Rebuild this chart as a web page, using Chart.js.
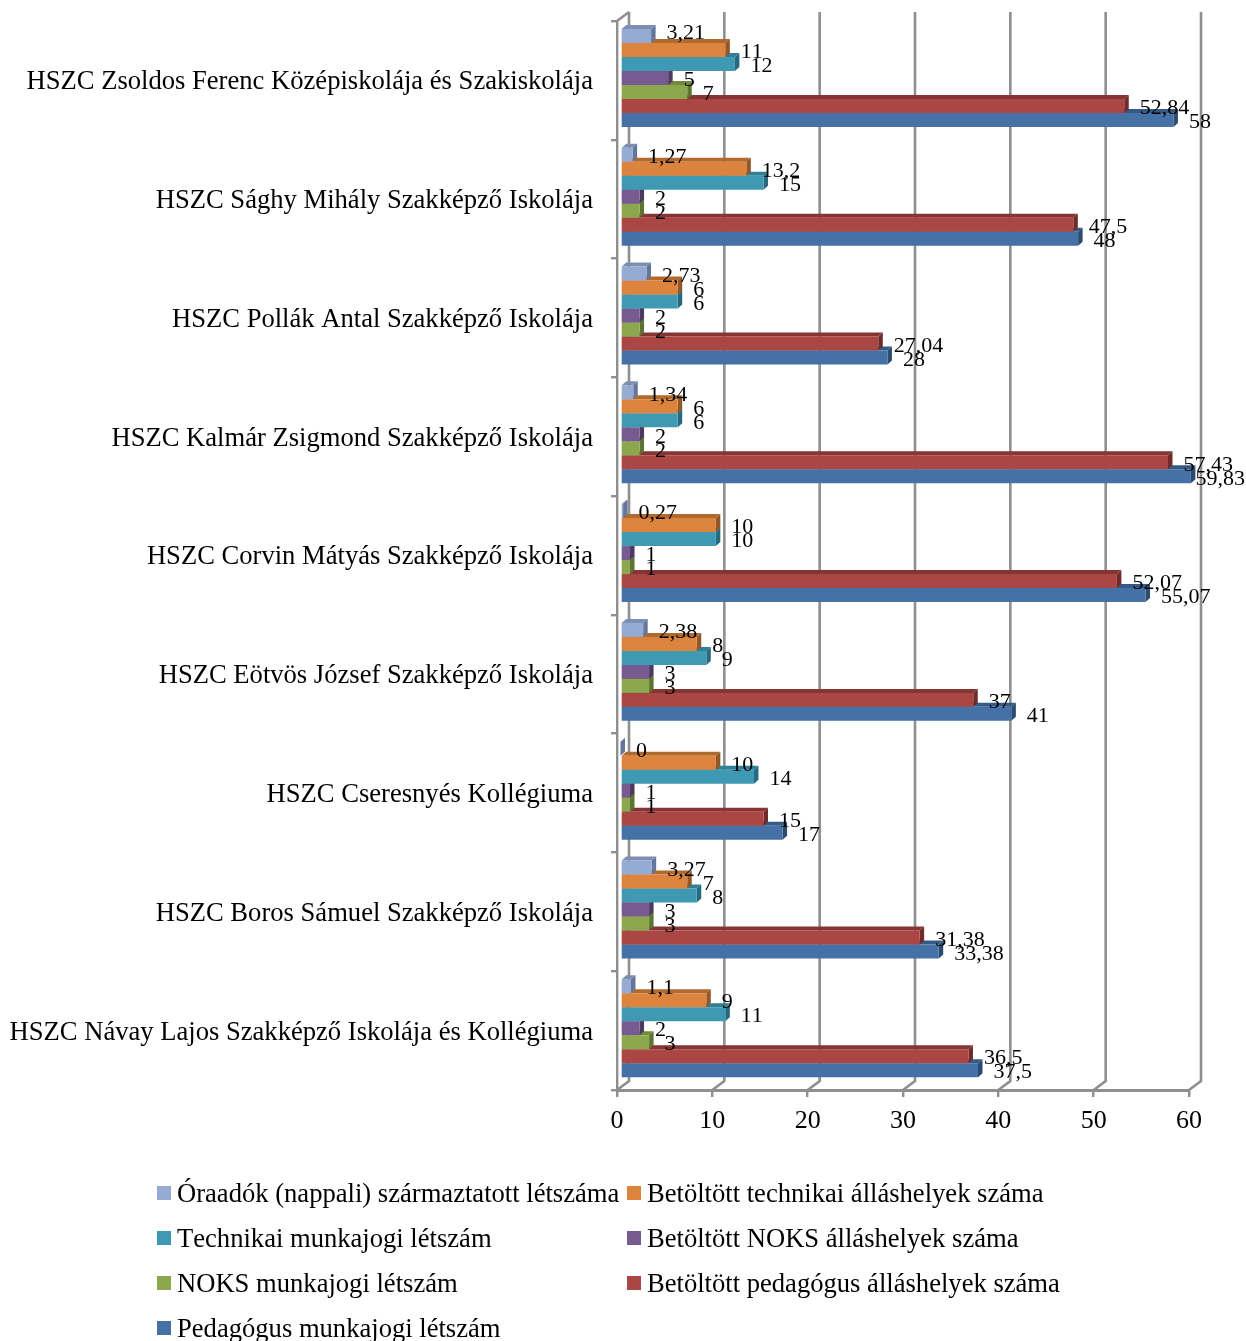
<!DOCTYPE html>
<html><head><meta charset="utf-8">
<script src="https://cdn.jsdelivr.net/npm/chart.js@4/dist/chart.umd.min.js"></script>
<style>html,body{margin:0;padding:0;background:#fff}canvas{display:block}</style>
</head><body><canvas id="c" width="1246" height="1341"></canvas>
<script>
const categories=["HSZC Zsoldos Ferenc Középiskolája és Szakiskolája","HSZC Sághy Mihály Szakképző Iskolája","HSZC Pollák Antal Szakképző Iskolája","HSZC Kalmár Zsigmond Szakképző Iskolája","HSZC Corvin Mátyás Szakképző Iskolája","HSZC Eötvös József Szakképző Iskolája","HSZC Cseresnyés Kollégiuma","HSZC Boros Sámuel Szakképző Iskolája","HSZC Návay Lajos Szakképző Iskolája és Kollégiuma"];
const oraadok=[3.21,1.27,2.73,1.34,0.27,2.38,0,3.27,1.1];
const techBetoltott=[11,13.2,6,6,10,8,10,7,9];
const techLetszam=[12,15,6,6,10,9,14,8,11];
const noksBetoltott=[5,2,2,2,1,3,1,3,2];
const noksLetszam=[7,2,2,2,1,3,1,3,3];
const pedBetoltott=[52.84,47.5,27.04,57.43,52.07,37,15,31.38,36.5];
const pedLetszam=[58,48,28,59.83,55.07,41,17,33.38,37.5];
const seriesNames=["Óraadók (nappali) származtatott létszáma","Betöltött technikai álláshelyek száma","Technikai munkajogi létszám","Betöltött NOKS álláshelyek száma","NOKS munkajogi létszám","Betöltött pedagógus álláshelyek száma","Pedagógus munkajogi létszám"];
const seriesValues=[oraadok,techBetoltott,techLetszam,noksBetoltott,noksLetszam,pedBetoltott,pedLetszam];
const colors=["#95ABD3","#DC843E","#4099B3","#775A90","#8CA84E","#AA4644","#4571A6"];
const topColors=["#7C90B4","#B0692F","#2F7F96","#5E4573","#6F8A3A","#863533","#365A85"];
const sideColors=["#64769A","#935626","#256A7E","#4D3860","#5C7430","#702B2A","#2C4B70"];
const FONT='"Liberation Serif"';
const GRID='#8F8F8F';
const DX=3.5,DY=-2.4,WX=12,WY=-9,BX=4.5,BY=-4;

const threeD={id:'threeD',
 beforeDraw(chart){chart.ctx.fontKerning='none';},
 beforeDatasetsDraw(chart){
  const c=chart.ctx,x=chart.scales.x,a=chart.chartArea;
  c.save();c.strokeStyle=GRID;c.lineWidth=2.6;c.lineJoin='miter';
  x.ticks.forEach((t,i)=>{const p=x.getPixelForTick(i);
   c.beginPath();c.moveTo(p,a.bottom);c.lineTo(p+WX,a.bottom+WY);c.lineTo(p+WX,a.top+WY);c.stroke();});
  c.beginPath();c.moveTo(a.left,a.top);c.lineTo(a.left+WX,a.top+WY);c.stroke();
  c.restore();
  c.save();c.translate(DX,DY);
 },
 beforeDatasetDraw(chart,args){
  const c=chart.ctx,i=args.index;
  chart.getDatasetMeta(i).data.forEach(el=>{
   const h=el.height/2,x0=el.base,x1=el.x,y0=el.y-h,y1=el.y+h;
   c.fillStyle=topColors[i];c.beginPath();c.moveTo(x0,y0);c.lineTo(x0+BX,y0+BY);c.lineTo(x1+BX,y0+BY);c.lineTo(x1,y0);c.closePath();c.fill();
   c.fillStyle=sideColors[i];c.beginPath();c.moveTo(x1,y0);c.lineTo(x1+BX,y0+BY);c.lineTo(x1+BX,y1+BY);c.lineTo(x1,y1);c.closePath();c.fill();
  });
 },
 afterDatasetsDraw(chart){
  const c=chart.ctx;c.restore();
  c.save();c.fillStyle='#000';c.font='22px '+FONT;c.textAlign='left';c.textBaseline='middle';
  chart.data.datasets.forEach((d,i)=>{chart.getDatasetMeta(i).data.forEach((el,j)=>{
   const s=String(d.data[j]).replace('.',',');
   const lx=Math.min(el.x+DX+15.5,chart.width-1-c.measureText(s).width);
   const nudge=(i===0&&j===0)?-5:0;
   c.fillText(s,lx,el.y+DY+2.5+nudge);
  });});
  c.restore();
 }
};
const legendCols=[157,627],legendRows=[1193,1238,1283,1328];
const legendPlugin={id:'legend2',afterDraw(chart){
 const c=chart.ctx;c.save();c.font='26.6px '+FONT;c.textBaseline='middle';c.textAlign='left';
 chart.data.datasets.forEach((d,i)=>{const col=legendCols[i%2],y=legendRows[Math.floor(i/2)];
  c.fillStyle=d.backgroundColor;c.fillRect(col,y-7,14,14);
  c.fillStyle='#000';c.fillText(d.label,col+20,y+2);});
 c.restore();
}};
new Chart(document.getElementById('c'),{
 type:'bar',
 data:{labels:categories,datasets:seriesValues.map((v,i)=>({label:seriesNames[i],data:v,backgroundColor:colors[i],categoryPercentage:0.825,barPercentage:1,clip:false,borderWidth:0}))},
 options:{indexAxis:'y',responsive:false,animation:false,
  layout:{padding:{top:21,right:57,bottom:0,left:0}},
  plugins:{legend:{display:false},tooltip:{enabled:false}},
  scales:{
   x:{min:0,max:60,ticks:{stepSize:10,color:'#000',font:{family:FONT,size:26},padding:9,maxRotation:0},
      grid:{drawOnChartArea:false,drawTicks:true,tickLength:7,color:GRID,lineWidth:2.4},border:{display:true,color:GRID,width:3},
      afterFit(s){s.height=251;s.paddingLeft=0;s.paddingRight=0;}},
   y:{ticks:{color:'#000',font:{family:FONT,size:26.6},padding:18,autoSkip:false,labelOffset:2},
      grid:{drawOnChartArea:false,drawTicks:true,tickLength:6,color:GRID,lineWidth:2.4},border:{display:true,color:GRID,width:2.4},
      afterFit(s){s.width=617;s.paddingTop=0;s.paddingBottom=0;}}
  }},
 plugins:[threeD,legendPlugin]
});
</script></body></html>
